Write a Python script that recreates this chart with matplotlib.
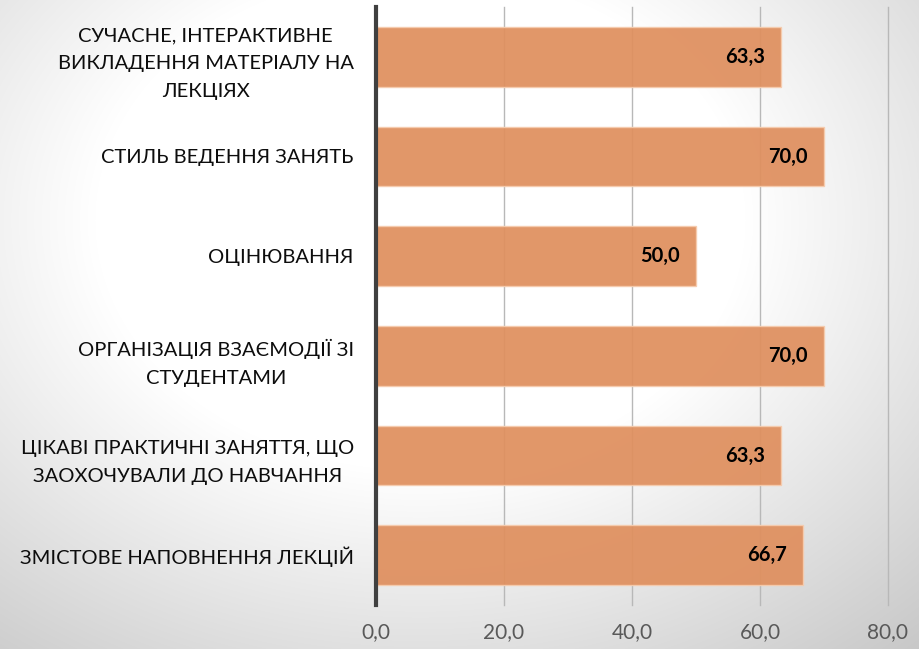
import numpy as np
import matplotlib
matplotlib.use("Agg")
import matplotlib.pyplot as plt

categories = [
    "СУЧАСНЕ, ІНТЕРАКТИВНЕ\nВИКЛАДЕННЯ МАТЕРІАЛУ НА\nЛЕКЦІЯХ",
    "СТИЛЬ ВЕДЕННЯ ЗАНЯТЬ",
    "ОЦІНЮВАННЯ",
    "ОРГАНІЗАЦІЯ ВЗАЄМОДІЇ ЗІ\nСТУДЕНТАМИ",
    "ЦІКАВІ ПРАКТИЧНІ ЗАНЯТТЯ, ЩО\nЗАОХОЧУВАЛИ ДО НАВЧАННЯ",
    "ЗМІСТОВЕ НАПОВНЕННЯ ЛЕКЦІЙ",
]
values = [63.3, 70.0, 50.0, 70.0, 63.3, 66.7]
xticks = [0, 20, 40, 60, 80]
xtick_labels = ["0,0", "20,0", "40,0", "60,0", "80,0"]

plt.rcParams['font.family'] = ['Lato', 'Open Sans', 'DejaVu Sans']

W, H = 919, 649
fig = plt.figure(figsize=(W / 100, H / 100), dpi=100)

# radial gradient background
bg = fig.add_axes([0, 0, 1, 1], zorder=-10)
yy, xx = np.mgrid[0:H, 0:W]
d = np.sqrt(((xx - 420.0) / 1.3) ** 2 + (yy - 220.0) ** 2)
v = 255 - 0.17 * np.clip(d - 250, 0, None)
v = np.clip(v, 0, 255) / 255.0
img = np.dstack([v, v, v])
bg.imshow(img, aspect='auto', extent=[0, 1, 0, 1], origin='upper')
bg.axis('off')

ax = fig.add_axes([376 / W, 1 - 605 / H, (888 - 376) / W, (605 - 7) / H])
ax.set_facecolor('none')

y = np.arange(len(categories))
ax.barh(y, values, height=0.6, color='#DF8F5E', alpha=0.93,
        edgecolor='#F6CCAE', linewidth=1.0, zorder=3)

for yi, val in zip(y, values):
    ax.annotate(f"{val:.1f}".replace('.', ','), xy=(val, yi), xytext=(-16, 0),
                textcoords='offset pixels',
                ha='right', va='center', fontsize=14.5, fontweight='bold',
                color='#000000', zorder=5)

ax.set_xlim(0, 80)
ax.set_ylim(len(categories) - 0.5, -0.5)
ax.set_xticks(xticks)
ax.set_xticklabels(xtick_labels)
ax.set_yticks(y)
ax.set_yticklabels(categories, multialignment='center', linespacing=1.78)
ax.tick_params(axis='x', length=0, pad=12, labelsize=15, labelcolor='#595959')
ax.tick_params(axis='y', length=0, pad=16, labelsize=14.5, labelcolor='#0d0d0d')

for xv in xticks[1:]:
    ax.axvline(xv, color='#b8b8b8', linewidth=1.0, zorder=1, clip_on=False)
ax.axvline(0, color='#404040', linewidth=3.0, zorder=6, clip_on=False)

for s in ax.spines.values():
    s.set_visible(False)

fig.savefig("out.png", dpi=100)
